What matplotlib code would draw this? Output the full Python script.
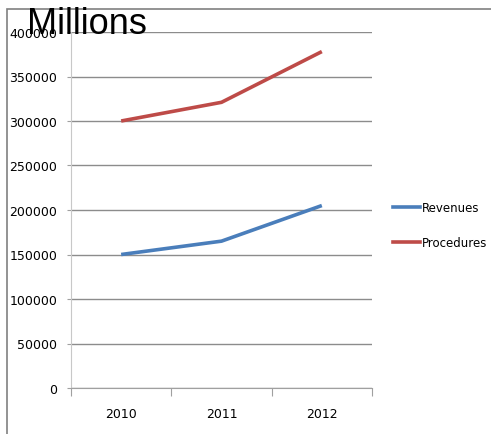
import matplotlib
matplotlib.use("Agg")
from matplotlib import pyplot as plt
from matplotlib.patches import Rectangle
from matplotlib.lines import Line2D

years = ["2010", "2011", "2012"]
revenues = [150000, 165000, 205000]
procedures = [300000, 321000, 378000]
yticks = [0, 50000, 100000, 150000, 200000, 250000, 300000, 350000, 400000]

plt.rcParams['font.family'] = ['DejaVu Sans Condensed', 'DejaVu Sans']

W, H = 491, 435
fig = plt.figure(figsize=(W / 100, H / 100), dpi=100)

# outer chart frame
frame = Rectangle((7 / W, -0.1), 1.2, 1 - 10 / H + 0.1, transform=fig.transFigure,
                  fill=False, edgecolor='#808080', linewidth=1.2)
fig.patches.append(frame)

ax = fig.add_axes([71 / W, 1 - 389 / H, (372 - 71) / W, (389 - 33) / H])
x = [0.5, 1.5, 2.5]
ax.plot(x, revenues, color='#4a7ebb', linewidth=2.6, solid_capstyle='butt')
ax.plot(x, procedures, color='#be4b48', linewidth=2.6, solid_capstyle='butt')

ax.set_xlim(0, 3)
ax.set_ylim(0, 400000)
ax.set_yticks(yticks)
ax.set_yticklabels([str(v) for v in yticks])
ax.set_xticks([0, 1, 2, 3])
ax.set_xticklabels([])
ax.set_xticks(x, minor=True)
ax.set_xticklabels(years, minor=True)
ax.tick_params(axis='x', which='minor', length=0, pad=14, labelsize=9)
ax.tick_params(axis='x', which='major', length=6, color='#a0a0a0', direction='out')
ax.tick_params(axis='y', length=3, color='#a0a0a0', labelsize=9, pad=7)
ax.yaxis.grid(True, color='#8c8c8c', linewidth=1)
ax.set_axisbelow(True)
for s in ['top', 'right']:
    ax.spines[s].set_visible(False)
ax.spines['left'].set_color('#c8c8c8')
ax.spines['bottom'].set_color('#a0a0a0')

handles = [Line2D([], [], color='#4a7ebb', linewidth=2.6),
           Line2D([], [], color='#be4b48', linewidth=2.6)]
fig.legend(handles, ["Revenues", "Procedures"], loc='upper left',
           bbox_to_anchor=(393 / W, 1 - 202 / H), frameon=False,
           borderpad=0, borderaxespad=0,
           fontsize=8.5, handlelength=2.3, handletextpad=0.15, labelspacing=1.9)

fig.text(27 / W, 1 - 24 / H, "Millions", fontsize=26, va='center', ha='left',
         family=['Liberation Sans', 'DejaVu Sans'])

fig.savefig("out.png", dpi=100)
